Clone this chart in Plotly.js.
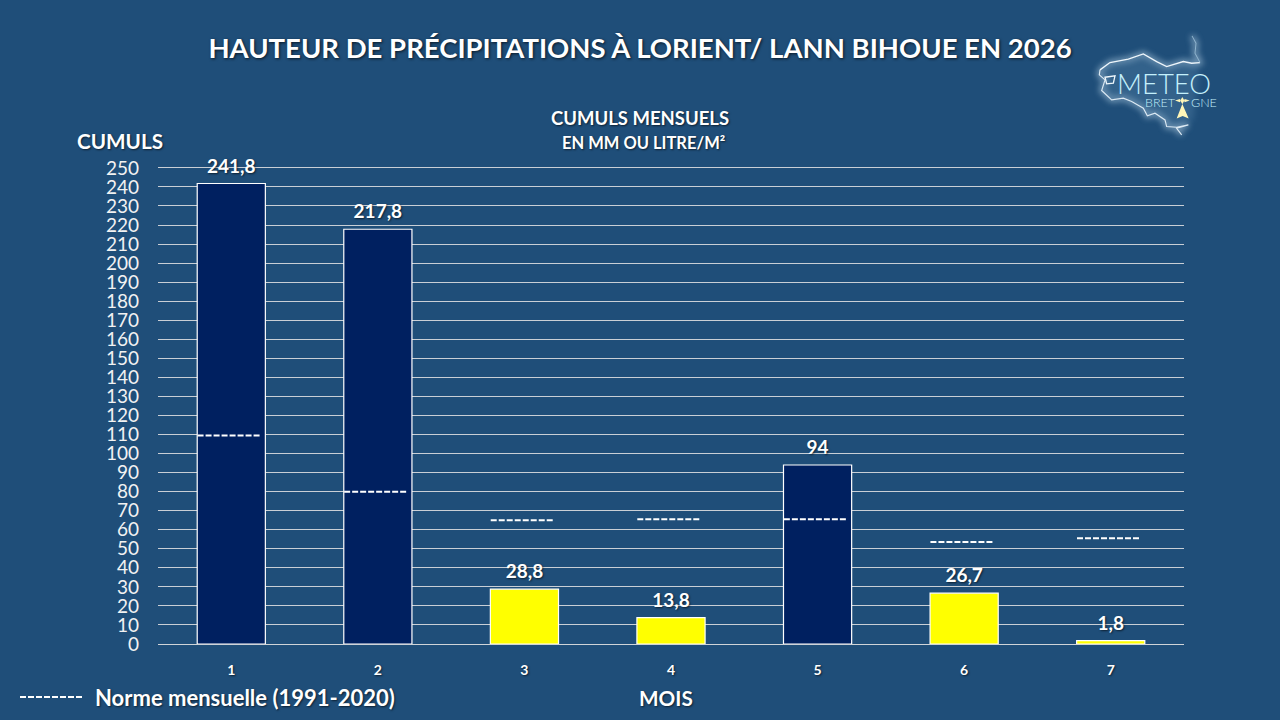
<!DOCTYPE html>
<html><head><meta charset="utf-8">
<script src="https://cdn.plot.ly/plotly-3.0.1.min.js"></script>
<style>html,body{margin:0;padding:0;background:#1F4E79}#c{width:1280px;height:720px}</style>
</head><body><div id="c"></div>
<script>
const months = [1, 2, 3, 4, 5, 6, 7];
const cumuls = [241.8, 217.8, 28.8, 13.8, 94, 26.7, 1.8];
const normes = [109.5, 80, 65, 65.5, 65.5, 53.5, 55.5];
const yTicks = [0,10,20,30,40,50,60,70,80,90,100,110,120,130,140,150,160,170,180,190,200,210,220,230,240,250];
const mainTitle = "HAUTEUR DE PRÉCIPITATIONS À LORIENT/ LANN BIHOUE EN 2026";
const subTitle1 = "CUMULS MENSUELS";
const subTitle2 = "EN MM OU LITRE/M²";
const yLabel = "CUMULS";
const xLabel = "MOIS";
const legendLabel = "Norme mensuelle (1991-2020)";

const FONT = "Lato, Carlito, sans-serif";
const SHADOW = "1px 1px 2px rgba(0,0,0,0.6)";
const normX = [], normY = [];
months.forEach((m, i) => { normX.push(m - 0.23, m + 0.195, null); normY.push(normes[i], normes[i], null); });

const logoSvg = `<svg xmlns="http://www.w3.org/2000/svg" width="600" height="390" viewBox="0 0 600 390">
<defs><filter id="g" x="-20%" y="-20%" width="140%" height="140%"><feGaussianBlur stdDeviation="9"/></filter></defs>
<path d="M120 150L150 128L205 118L250 102L290 125L320 140L370 125L395 130L420 128L405 100L408 70L396 48M120 150L118 165L135 180L125 212L155 240L190 235L215 245L250 265L262 288L285 280L315 300L320 320L350 322L385 315L350 325L365 345" fill="none" stroke="#cfe6f5" stroke-width="14" opacity="0.55" filter="url(#g)"/>
<path d="M120 150L118 165L135 180L125 212L155 240L190 235L215 245L250 265L262 288L285 280L315 300L320 320L350 322L400 300L420 128L370 125L320 140L290 125L250 102L205 118L150 128Z" fill="#6f9dc0" opacity="0.25" filter="url(#g)"/>
<path d="M120 150L150 128L205 118L250 102L290 125L320 140L370 125L395 130L420 128" fill="none" stroke="#eef6fb" stroke-width="4"/>
<path d="M420 128L405 100L408 70L396 48" fill="none" stroke="#8fb3cd" stroke-width="3"/>
<path d="M120 150L118 165L135 180L125 212L155 240L190 235L215 245L250 265L262 288L285 280L315 300L320 320L350 322L385 315L350 325L365 345" fill="none" stroke="#dbe9f3" stroke-width="3.5"/>
<path d="M135 172L165 168L160 190L140 192Z" fill="none" stroke="#eef6fb" stroke-width="4"/>
<g fill="#fff6b8"><path d="M367 231L373 242L367 253L361 242Z"/><path d="M345 242L360 237L362 242L360 247Z"/><path d="M389 242L374 237L372 242L374 247Z"/><path d="M367 252L386 296L368 288L350 296Z"/></g>
</svg>`;
const logoUri = "data:image/svg+xml;base64," + btoa(logoSvg);

const ann = (text, x, y, size, extra) => Object.assign({
  text, x, y, xref: "paper", yref: "paper", showarrow: false, xanchor: "center", yanchor: "middle",
  font: { family: FONT, size, color: "#ffffff", weight: 700, shadow: SHADOW }
}, extra || {});
// convert page pixels to paper fractions of the plot area
const L = 158, R = 1184, T = 166.1, B = 644;
const px = x => (x - L) / (R - L);
const py = y => (B - y) / (B - T);

const data = [
  { type: "bar", x: months, y: cumuls, width: 0.465,
    marker: { color: cumuls.map((v, i) => v < normes[i] ? "#FFFF00" : "#002060"), line: { color: "#ffffff", width: 1.2 } },
    hoverinfo: "skip" },
  { type: "scatter", mode: "lines", x: normX, y: normY, connectgaps: false,
    line: { color: "#ffffff", width: 2, dash: "6px,2px" }, hoverinfo: "skip" },
  { type: "scatter", mode: "markers+text", x: months, y: cumuls, cliponaxis: false,
    text: cumuls.map(v => String(v).replace(".", ",")), textposition: "top center",
    marker: { size: 8, opacity: 0 },
    textfont: { family: FONT, size: 19, color: "#ffffff", weight: 700, shadow: SHADOW }, hoverinfo: "skip" }
];

const layout = {
  width: 1280, height: 720, showlegend: false,
  paper_bgcolor: "#1F4E79", plot_bgcolor: "#1F4E79",
  margin: { l: L, r: 1280 - R, t: T, b: 720 - B, pad: 0 },
  bargap: 0.535,
  title: { text: mainTitle, x: 0.5, xanchor: "center", y: 0.933, yanchor: "middle",
    font: { family: FONT, size: 27.5, color: "#ffffff", weight: 700, shadow: "1px 1px 3px rgba(0,0,0,0.7)" } },
  xaxis: { range: [0.5, 7.5], tickmode: "array", tickvals: months, ticktext: months.map(String), ticks: "outside", ticklen: 13, tickcolor: "rgba(0,0,0,0)",
    showgrid: false, zeroline: false, showline: true, linecolor: "#d0d4d8", linewidth: 1,
    tickfont: { family: FONT, size: 14, color: "#ffffff", weight: 700, shadow: SHADOW } },
  yaxis: { range: [0, 251], tickmode: "array", tickvals: yTicks, ticks: "", ticklabelstandoff: 18,
    showgrid: true, gridcolor: "#c9cfd6", gridwidth: 1, zeroline: false, showline: false,
    tickfont: { family: FONT, size: 19, color: "#f2f2f2" } },
  images: [{ source: logoUri, xref: "paper", yref: "paper", x: px(1060), y: py(20), sizex: 200 / (R - L), sizey: 130 / (B - T), sizing: "stretch", xanchor: "left", yanchor: "top", layer: "below" }],
  shapes: [{ type: "line", xref: "paper", yref: "paper", x0: px(20), x1: px(82), y0: py(697), y1: py(697),
    line: { color: "#ffffff", width: 2, dash: "6px,2px" } }],
  annotations: [
    ann(subTitle1, px(640), py(118), 18.5),
    ann(subTitle2, px(643), py(143), 16.5),
    ann(yLabel, px(120), py(141), 20.7),
    ann(xLabel, px(666), py(698), 20.7),
    ann(legendLabel, px(92.5), py(697), 22, { xanchor: "left" }),
    ann("METEO", px(1164), py(84), 27.5, { font: { family: FONT, size: 27.5, color: "#c4f0fb", weight: 300 } }),
    ann("BRET", px(1160), py(103), 12.5, { font: { family: FONT, size: 12.5, color: "#c4f0fb", weight: 300 } }),
    ann("GNE", px(1204), py(103), 12.5, { font: { family: FONT, size: 12.5, color: "#c4f0fb", weight: 300 } })
  ]
};
Plotly.newPlot("c", data, layout, { displayModeBar: false, staticPlot: true });
</script></body></html>
